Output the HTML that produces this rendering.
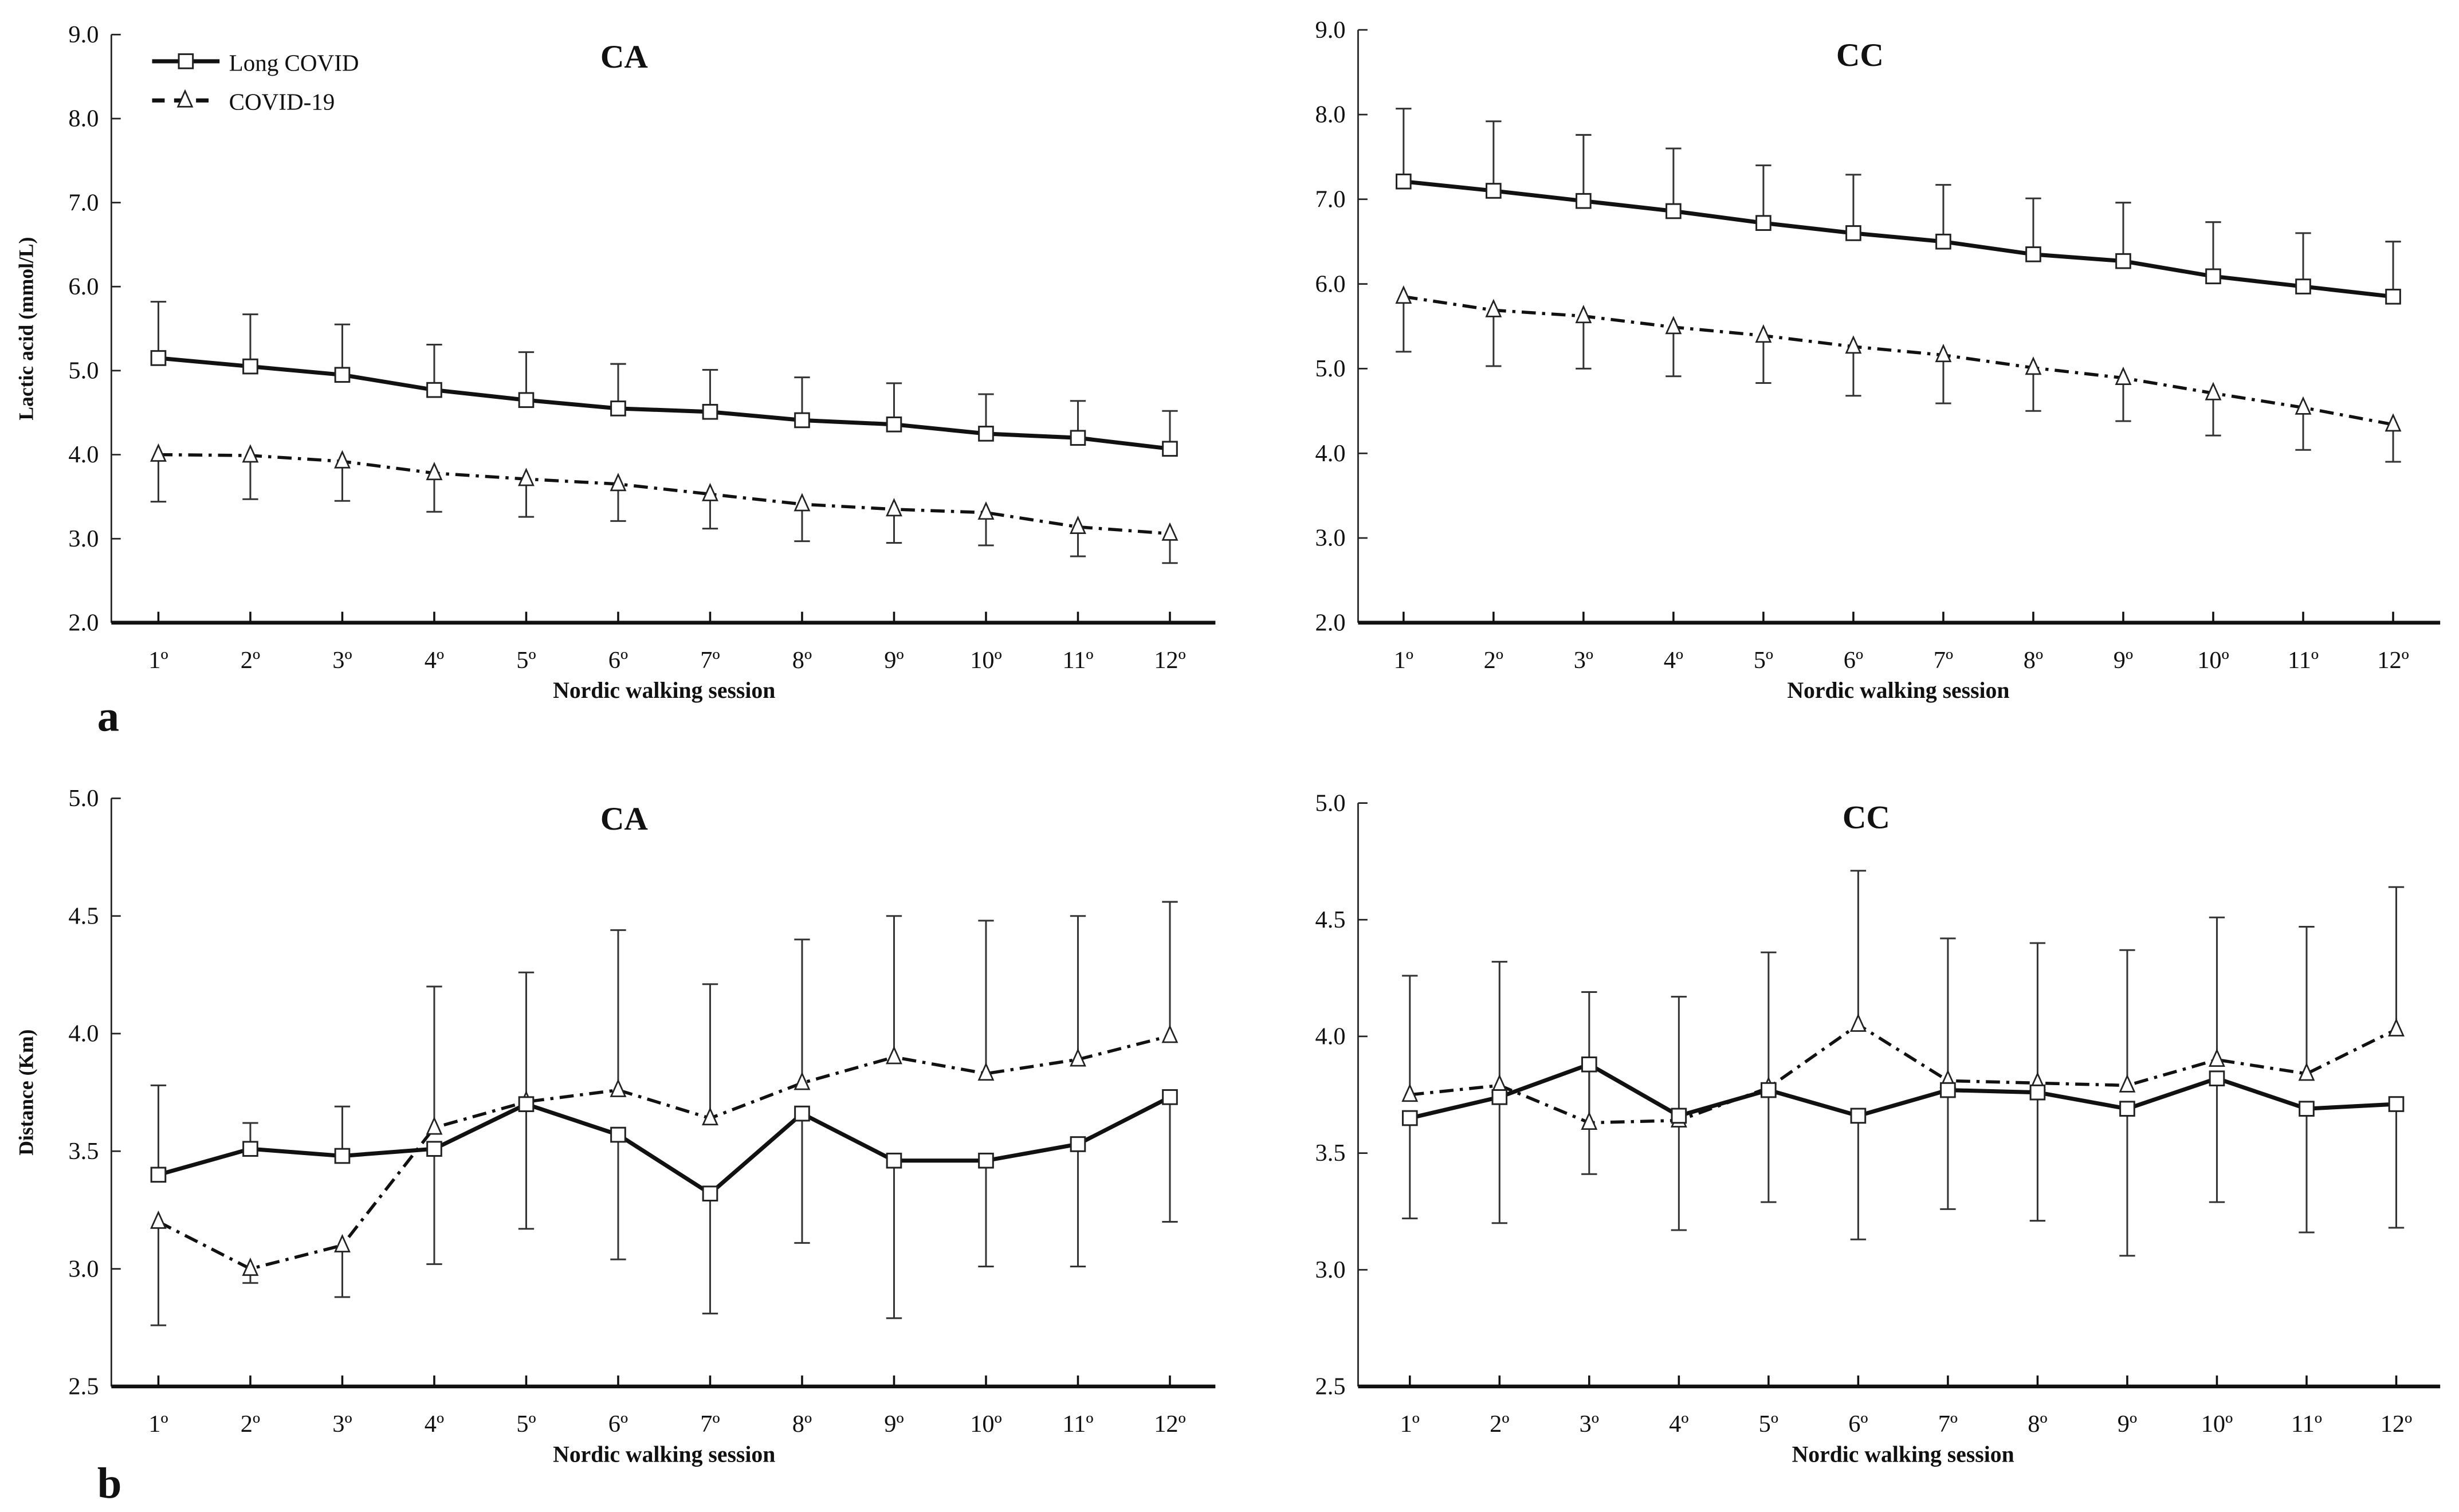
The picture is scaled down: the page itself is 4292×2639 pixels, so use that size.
<!DOCTYPE html>
<html><head><meta charset="utf-8"><style>
html,body{margin:0;padding:0;background:#fff;}
svg{display:block;}
text{font-family:"Liberation Serif",serif;fill:#111;}
</style></head><body>
<svg id="fig" width="4292" height="2639" viewBox="0 0 1568 964" xmlns="http://www.w3.org/2000/svg">
<text x="62" y="466" font-size="28" font-weight="bold">a</text>
<text x="62" y="955" font-size="28" font-weight="bold">b</text>
</svg>
<script>
const sessions = ['1º','2º','3º','4º','5º','6º','7º','8º','9º','10º','11º','12º'];
// Lactic acid CA
const caLacLong = [5.15,5.05,4.95,4.77,4.65,4.55,4.51,4.41,4.36,4.25,4.2,4.07];
const caLacLongHi = [5.82,5.67,5.55,5.31,5.22,5.08,5.01,4.92,4.85,4.72,4.64,4.52];
const caLacCov = [4.0,3.99,3.92,3.78,3.71,3.65,3.53,3.41,3.35,3.31,3.14,3.06];
const caLacCovLo = [3.44,3.47,3.45,3.32,3.26,3.21,3.12,2.97,2.95,2.92,2.79,2.71];
// Lactic acid CC
const ccLacLong = [7.21,7.1,6.98,6.86,6.72,6.6,6.5,6.35,6.27,6.09,5.97,5.85];
const ccLacLongHi = [8.07,7.92,7.76,7.6,7.4,7.29,7.17,7.01,6.96,6.73,6.6,6.5];
const ccLacCov = [5.85,5.69,5.62,5.49,5.39,5.26,5.16,5.01,4.89,4.71,4.54,4.34];
const ccLacCovLo = [5.2,5.03,5.0,4.91,4.83,4.68,4.59,4.5,4.38,4.21,4.04,3.9];
// Distance CA
const caDisLong = [3.4,3.51,3.48,3.51,3.7,3.57,3.32,3.66,3.46,3.46,3.53,3.73];
const caDisLongHi = [3.78,3.62,3.69,null,null,null,null,null,null,null,null,null];
const caDisLongLo = [null,null,null,3.02,3.17,3.04,2.81,3.11,2.79,3.01,3.01,3.2];
const caDisCov = [3.2,3.0,3.1,3.6,3.71,3.76,3.64,3.79,3.9,3.83,3.89,3.99];
const caDisCovHi = [null,null,null,4.2,4.26,4.44,4.21,4.4,4.5,4.48,4.5,4.56];
const caDisCovLo = [2.76,2.94,2.88,null,null,null,null,null,null,null,null,null];
// Distance CC
const ccDisLong = [3.65,3.74,3.88,3.66,3.77,3.66,3.77,3.76,3.69,3.82,3.69,3.71];
const ccDisLongLo = [3.22,3.2,3.41,3.17,3.29,3.13,3.26,3.21,3.06,3.29,3.16,3.18];
const ccDisCov = [3.75,3.79,3.63,3.64,3.78,4.05,3.81,3.8,3.79,3.9,3.84,4.03];
const ccDisCovHi = [4.26,4.32,4.19,4.17,4.36,4.71,4.42,4.4,4.37,4.51,4.47,4.64];
const lacTicks = ['2.0','3.0','4.0','5.0','6.0','7.0','8.0','9.0'];
const disTicks = ['2.5','3.0','3.5','4.0','4.5','5.0'];

const NS='http://www.w3.org/2000/svg';
const svg=document.getElementById('fig');
function mk(tag,attrs,parent){const e=document.createElementNS(NS,tag);for(const k in attrs)e.setAttribute(k,attrs[k]);(parent||svg).appendChild(e);return e;}

function panel(cfg){
  const g=mk('g',{});
  
  
  const ticks=cfg.ticks.map(Number);
  const ymin=ticks[0],ymax=ticks[ticks.length-1];
  const Y=v=>cfg.yb+(v-ymin)/(ymax-ymin)*(cfg.yt-cfg.yb);
  const X=i=>cfg.x1+i*(cfg.x12-cfg.x1)/(sessions.length-1);
  // y axis
  const ya=mk('line',{x1:cfg.ax,y1:cfg.yt,x2:cfg.ax,y2:cfg.yb,stroke:'#222','stroke-width':1},g);
  
  cfg.ticks.forEach(t=>{
    const y=Y(+t);
    mk('line',{x1:cfg.ax,y1:y,x2:cfg.ax+6,y2:y,stroke:'#222','stroke-width':1},g);
    const tx=mk('text',{x:cfg.ax-8,y:y+5,'font-size':15.5,'text-anchor':'end'},g);
    tx.textContent=t;
    
  });
  // x axis
  const xa=mk('line',{x1:cfg.ax,y1:cfg.yb,x2:cfg.xr,y2:cfg.yb,stroke:'#111','stroke-width':2.4},g);
  
  sessions.forEach((s,i)=>{
    mk('line',{x1:X(i),y1:cfg.yb,x2:X(i),y2:cfg.yb-7,stroke:'#111','stroke-width':1.3},g);
    const tx=mk('text',{x:X(i),y:cfg.yb+29,'font-size':15.5,'text-anchor':'middle'},g);
    tx.textContent=s;
    
  });
  const xt=mk('text',{x:(cfg.x1+cfg.x12)/2,y:cfg.yb+48,'font-size':14.5,'font-weight':'bold','text-anchor':'middle'},g);
  xt.textContent='Nordic walking session';
  
  const tt=mk('text',{x:cfg.titleX,y:cfg.titleY,'font-size':21,'font-weight':'bold','text-anchor':'middle'},g);
  tt.textContent=cfg.title;
  
  if(cfg.ytitle){
    const yt=mk('text',{x:0,y:0,'font-size':13,'font-weight':'bold','text-anchor':'middle',transform:`translate(21,${(cfg.yt+cfg.yb)/2}) rotate(-90)`},g);
    yt.textContent=cfg.ytitle;
    
  }
  // error bars
  function err(vals,ends,nm){
    if(!ends)return;
    ends.forEach((e,i)=>{
      if(e==null)return;
      const l=mk('line',{x1:X(i),y1:Y(vals[i]),x2:X(i),y2:Y(e),stroke:'#333','stroke-width':1.1},g);
      
      mk('line',{x1:X(i)-5,y1:Y(e),x2:X(i)+5,y2:Y(e),stroke:'#333','stroke-width':1.1},g);
    });
  }
  err(cfg.long,cfg.longHi,'long-covid-error-bar');
  err(cfg.long,cfg.longLo,'long-covid-error-bar');
  err(cfg.cov,cfg.covHi,'covid19-error-bar');
  err(cfg.cov,cfg.covLo,'covid19-error-bar');
  // lines
  const lc=mk('polyline',{points:cfg.cov.map((v,i)=>X(i)+','+Y(v)).join(' '),fill:'none',stroke:'#111','stroke-width':2,'stroke-dasharray':'9,4,2,4'},g);
  
  const ll=mk('polyline',{points:cfg.long.map((v,i)=>X(i)+','+Y(v)).join(' '),fill:'none',stroke:'#111','stroke-width':2.6},g);
  
  cfg.cov.forEach((v,i)=>{
    const x=X(i),y=Y(v);
    const p=mk('polygon',{points:`${x},${y-6} ${x-4.5},${y+4} ${x+4.5},${y+4}`,fill:'#fff',stroke:'#222','stroke-width':1},g);
    
  });
  cfg.long.forEach((v,i)=>{
    const r=mk('rect',{x:X(i)-4.5,y:Y(v)-4.5,width:9,height:9,fill:'#fff',stroke:'#222','stroke-width':1.1},g);
    
  });
}

panel({name:'ca-lactic-panel',ticks:lacTicks,ax:71,xr:775,yt:22,yb:397,x1:101,x12:746,title:'CA',titleX:398,titleY:43,ytitle:'Lactic acid (mmol/L)',
  long:caLacLong,longHi:caLacLongHi,cov:caLacCov,covLo:caLacCovLo});
panel({name:'cc-lactic-panel',ticks:lacTicks,ax:866,xr:1556,yt:19,yb:397,x1:895,x12:1526,title:'CC',titleX:1186,titleY:42,
  long:ccLacLong,longHi:ccLacLongHi,cov:ccLacCov,covLo:ccLacCovLo});
panel({name:'ca-distance-panel',ticks:disTicks,ax:71,xr:775,yt:509,yb:884,x1:101,x12:746,title:'CA',titleX:398,titleY:529,ytitle:'Distance (Km)',
  long:caDisLong,longHi:caDisLongHi,longLo:caDisLongLo,cov:caDisCov,covHi:caDisCovHi,covLo:caDisCovLo});
panel({name:'cc-distance-panel',ticks:disTicks,ax:866,xr:1556,yt:512,yb:884,x1:899,x12:1528,title:'CC',titleX:1190,titleY:528,
  long:ccDisLong,longLo:ccDisLongLo,cov:ccDisCov,covHi:ccDisCovHi});

// legend
const lg=mk('g',{});


mk('line',{x1:97,y1:39,x2:140,y2:39,stroke:'#111','stroke-width':2.6},lg);
mk('rect',{x:114,y:34.5,width:9,height:9,fill:'#fff',stroke:'#222','stroke-width':1.1},lg);
const t1=mk('text',{x:146,y:45,'font-size':15},lg);t1.textContent='Long COVID';


mk('line',{x1:97,y1:64,x2:136,y2:64,stroke:'#111','stroke-width':2.6,'stroke-dasharray':'8,6'},lg);
mk('polygon',{points:'118,58 113.5,68 122.5,68',fill:'#fff',stroke:'#222','stroke-width':1},lg);
const t2=mk('text',{x:146,y:70,'font-size':15},lg);t2.textContent='COVID-19';


</script>
</body></html>
